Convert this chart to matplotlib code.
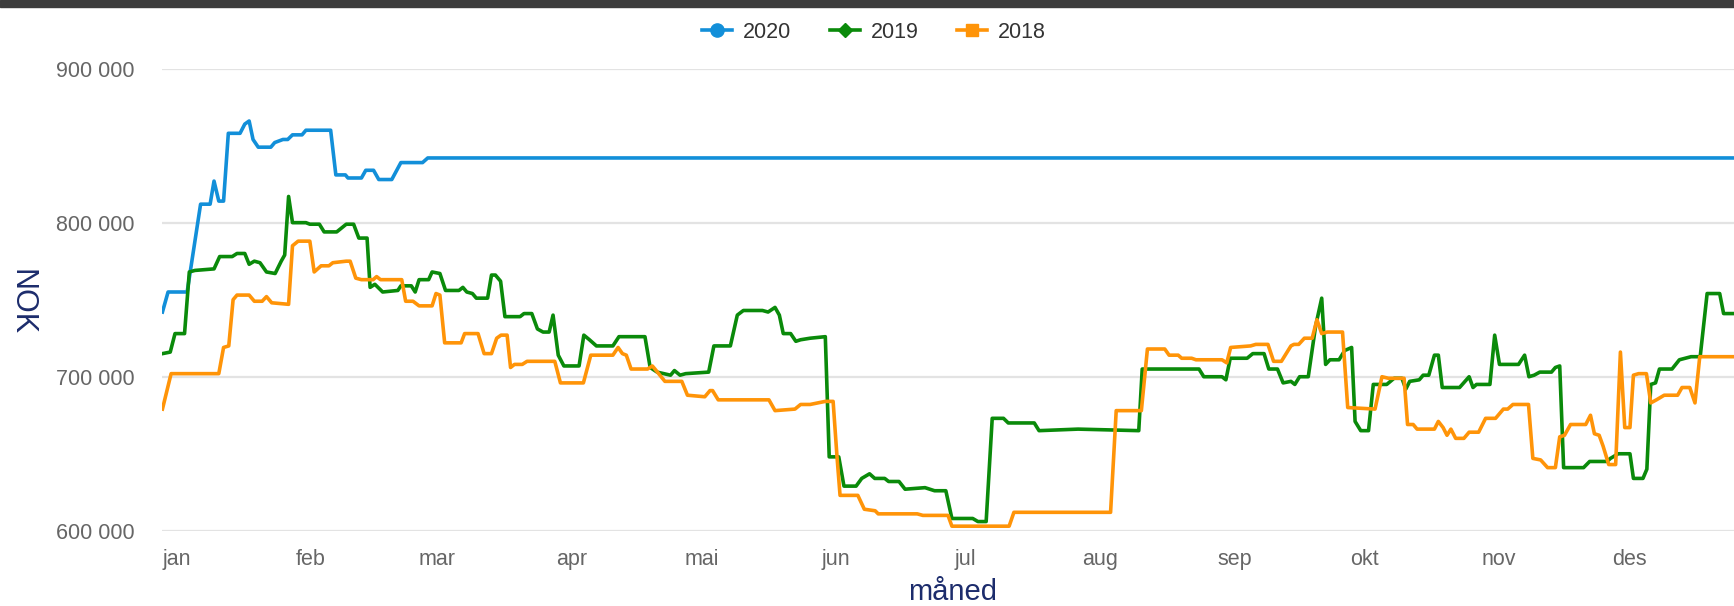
import matplotlib
matplotlib.use("Agg")
import matplotlib.pyplot as plt
from matplotlib.lines import Line2D
from matplotlib.patches import Rectangle
from matplotlib.ticker import FuncFormatter
import numpy as np

plt.rcParams['font.family'] = ['Liberation Sans', 'DejaVu Sans']

# month labels at day-of-year of month start
months = ["jan", "feb", "mar", "apr", "mai", "jun", "jul", "aug", "sep", "okt", "nov", "des"]
month_start = [0, 31, 60, 91, 121, 152, 182, 213, 244, 274, 305, 335]
yticks = [600000, 700000, 800000, 900000]

# 2020 (day of year, price in 1000 NOK)
days_2020 = [-3.3, -2, 2.4, 5.5, 7.7, 8.6, 9.7, 10.8, 11.9, 14.6, 15.7, 16.7, 17.6, 18.8, 21.7,
             22.6, 24.5, 25.6, 26.7, 28.9, 29.8, 35.5, 36.7, 38.9, 39.5, 42.6, 43.6, 45.4, 46.6,
             49.6, 51.7, 56.7, 57.9, 359.2]
nok_2020 = [742, 755, 755, 812, 812, 827, 814, 814, 858, 858, 864, 866, 854, 849, 849,
            852, 854, 854, 857, 857, 860, 860, 831, 831, 829, 829, 834, 834, 828,
            828, 839, 839, 842, 842]

days_2019 = [-3.3, -1.5, -0.4, 1.8, 2.9, 4.2, 8.6, 9.9, 12.8, 13.9, 15.7, 16.7, 17.9, 19.2, 20.7,
             22.7, 24.1, 24.9, 25.8, 26.7, 29.8, 30.7, 32.9, 34.0, 36.9, 39.1, 40.8, 42.0, 43.9,
             44.6, 45.7, 47.5, 51.0, 51.7, 54.1, 55.0, 55.9, 58.1, 58.9, 60.7, 62.0, 65.1, 66.0,
             66.9, 68.2, 69.1, 71.7, 72.6, 73.5, 74.7, 75.7, 79.2, 80.1, 81.9, 83.2, 84.5, 85.9,
             86.8, 88.0, 89.3, 92.8, 93.9, 95.2, 96.8, 100.6, 102, 108, 109.2, 110.8, 113.9, 114.8,
             116.1, 117.4, 122.7, 123.9, 127.7, 129.3, 130.7, 135.1, 136.4, 138, 139, 139.9, 141.6,
             142.8, 143.9, 146.1, 149.6, 150.5, 152.7, 153.9, 156.7, 158, 159.8, 161, 163.3, 164.2,
             166.6, 168, 172.6, 174.8, 177.4, 178.8, 183.6, 184.8, 186.7, 188.1, 190.7, 191.8,
             197.8, 198.9, 207.9, 221.9, 222.7, 235.8, 236.9, 241.1, 242, 243, 246.9, 248.2, 250.8,
             251.9, 253.9, 255.2, 257, 257.9, 259, 261, 262.7, 264.1, 265, 266, 268.1, 269.4, 271,
             271.8, 273.1, 274.9, 276, 279.1, 280.8, 282.6, 283.5, 284.4, 286.6, 287.5, 288.8,
             290.1, 291, 291.9, 295.9, 298.1, 299, 299.8, 302.9, 304, 305.1, 309.5, 310.9, 311.9,
             313.1, 314.4, 317.1, 318, 319, 319.9, 324.5, 325.9, 329.9, 330.7, 332.5, 335.2, 336,
             338.2, 339.1, 340, 341.1, 342, 344.9, 346.6, 348, 349.3, 351.4, 353, 355.9, 356.8, 359.2]
nok_2019 = [715, 716, 728, 728, 768, 769, 770, 778, 778, 780, 780, 773, 775, 774, 768,
            767, 775, 779, 817, 800, 800, 799, 799, 794, 794, 799, 799, 790, 790,
            758, 760, 755, 756, 759, 759, 755, 763, 763, 768, 767, 756, 756, 758,
            755, 754, 751, 751, 766, 766, 762, 739, 739, 741, 741, 731, 729, 729,
            740, 714, 707, 707, 727, 724, 720, 720, 726, 726, 706, 703, 701, 704,
            701, 702, 703, 720, 720, 740, 743, 743, 742, 745, 740, 728, 728,
            723, 724, 725, 726, 648, 648, 629, 629, 634, 637, 634, 634, 632,
            632, 627, 628, 626, 626, 608, 608, 606, 606, 673, 673, 670,
            670, 665, 666, 665, 705, 705, 700, 700, 698, 712, 712, 715, 715,
            705, 705, 696, 697, 695, 700, 700, 733, 751, 708, 711, 711, 717, 719,
            671, 665, 665, 695, 695, 699, 699, 692, 697, 698, 701, 701,
            714, 714, 693, 693, 700, 693, 695, 695, 727, 708, 708, 714, 700,
            701, 703, 703, 706, 707, 641, 641, 645, 645, 647, 650, 650, 634,
            634, 640, 695, 696, 705, 705, 711, 712, 713, 713, 754, 754, 741, 741]

days_2018 = [-3.3, -1.3, 9.7, 10.8, 12, 13, 13.9, 16.7, 17.9, 19.7, 20.7, 21.9, 25.8, 26.7, 28,
             30.7, 31.7, 33.3, 35.1, 36, 39.1, 40, 41.3, 42.6, 45.3, 46.1, 47, 51.9, 52.8, 54.5,
             55.9, 58.9, 59.8, 60.7, 61.8, 65.6, 66.4, 69.5, 70.9, 72.6, 73.8, 74.8, 76.2, 77,
             77.9, 79.7, 80.8, 87.2, 88.5, 93.8, 95.5, 100.6, 101.8, 102.8, 103.7, 104.8, 108.6,
             109.7, 110.3, 112.6, 116.5, 117.8, 121.8, 123, 123.6, 124.9, 136.6, 138, 142.6, 143.9,
             146.1, 149.6, 151.4, 152.3, 153, 157.1, 158.6, 161.1, 161.8, 170.8, 172.1, 177.9,
             178.8, 192, 193.1, 215.4, 216.7, 222.5, 223.9, 227.9, 228.9, 231, 231.8, 234.1, 235.1,
             241.1, 242.2, 243.1, 247.7, 248.9, 251.7, 253, 254.8, 257, 257.7, 258.8, 260.1, 261.9,
             263, 264.1, 265.4, 268.9, 270.1, 276.4, 278, 279.5, 283.1, 283.9, 285.2, 286.1, 290.1,
             291, 292.1, 293, 293.9, 295, 296.9, 298.1, 300.3, 301.9, 304.2, 306, 307, 308.2, 311.8,
             312.8, 314.6, 316.2, 318, 319, 320.1, 321.5, 325, 326.1, 327, 328.1, 329, 330.3, 331.9,
             333, 334, 335.2, 336, 337.2, 339, 340, 341.3, 343.1, 346.2, 347.2, 349, 350.2, 351.3,
             359.2]
nok_2018 = [679, 702, 702, 719, 720, 750, 753, 753, 749, 749, 752, 748, 747, 785, 788,
            788, 768, 772, 772, 774, 775, 775, 764, 763, 763, 765, 763, 763, 749, 749,
            746, 746, 754, 753, 722, 722, 728, 728, 715, 715, 725, 727, 727, 706,
            708, 708, 710, 710, 696, 696, 714, 714, 719, 715, 714, 705, 705,
            707, 705, 697, 697, 688, 687, 691, 691, 685, 685, 678, 679, 682,
            682, 684, 684, 648, 623, 623, 614, 613, 611, 611, 610, 610,
            603, 603, 612, 612, 678, 678, 718, 718, 714, 714, 712, 712, 711,
            711, 709, 719, 720, 721, 721, 710, 710, 720, 721, 721, 725, 725,
            737, 728, 729, 729, 680, 679, 700, 699, 699, 669, 669, 666, 666,
            671, 667, 662, 666, 660, 660, 664, 664, 673, 673, 679, 679, 682, 682,
            647, 646, 641, 641, 661, 662, 669, 669, 675, 663, 662, 655, 643, 643,
            716, 667, 667, 701, 702, 702, 683, 685, 688, 688, 693, 693, 683, 713,
            713]

series = [("2020", days_2020, nok_2020, "#128fd9", "o", 9.5),
          ("2019", days_2019, nok_2019, "#0a8a0a", "D", 7),
          ("2018", days_2018, nok_2018, "#ff9408", "s", 9)]

W, H = 1734, 606
fig = plt.figure(figsize=(W / 100, H / 100), dpi=100)
fig.patches.append(Rectangle((0, 1 - 7 / H), 1, 7 / H, transform=fig.transFigure,
                             color="#3c3c3c", zorder=0))

ax = fig.add_axes([162 / W, (H - 530.8) / H, 1 - 162 / W, (530.8 - 68.6) / H])

for name, d, v, c, m, ms in series:
    ax.plot(d, np.array(v) * 1000, color=c, lw=2.6, solid_joinstyle="round", zorder=3)

ax.set_xlim(-3.4, 359.2)
ax.set_ylim(600000, 900000)
ax.set_yticks(yticks)
ax.yaxis.set_major_formatter(FuncFormatter(lambda v, p: f"{int(v):,}".replace(",", " ")))
ax.set_xticks(month_start)
ax.set_xticklabels(months)
ax.yaxis.grid(True, color="#e3e3e3", lw=1.6)
ax.set_axisbelow(True)
for s in ax.spines.values():
    s.set_visible(False)
ax.tick_params(axis="both", length=0, labelsize=15.5, labelcolor="#666666")
ax.tick_params(axis="y", pad=20)
ax.tick_params(axis="x", pad=13)

fig.text(21 / W, 1 - 302 / H, "NOK", rotation=-90, fontsize=22, color="#1c2c6c",
         ha="center", va="center")
fig.text(953 / W, 1 - 592 / H, "måned", fontsize=21, color="#1c2c6c",
         ha="center", va="center")

handles = [Line2D([], [], color=c, lw=2.6, marker=m, markersize=ms) for _, _, _, c, m, ms in series]
fig.legend(handles, [s[0] for s in series], loc="center", bbox_to_anchor=(0.504, 1 - 32 / H),
           ncol=3, frameon=False, fontsize=15.5, handlelength=1.4, handletextpad=0.5,
           columnspacing=1.8, labelcolor="#333333")

fig.savefig("out.png", dpi=100)
